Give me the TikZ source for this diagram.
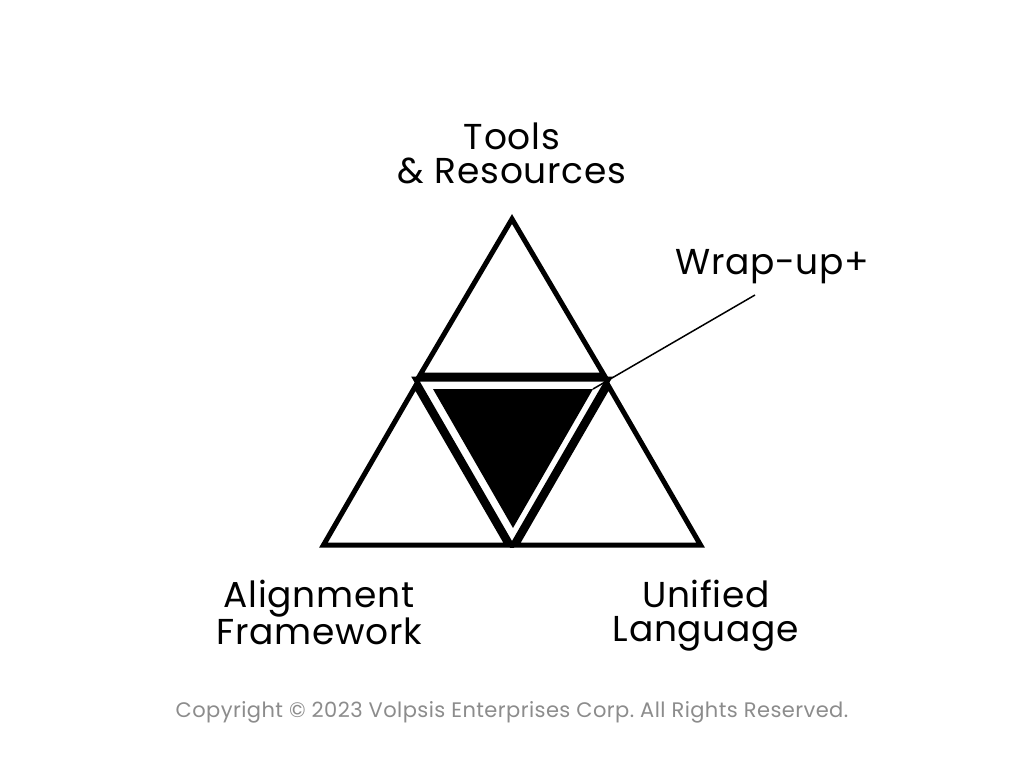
\documentclass[tikz,border=0pt]{standalone}
\usepackage{fontspec}
\setmainfont{Poppins}[LetterSpace=2]
\frenchspacing
\usetikzlibrary{positioning}

\definecolor{notegray}{RGB}{140,140,140}

\begin{document}
\begin{tikzpicture}[x=1pt, y=-1pt,
  tri/.style={draw=black, line width=5pt, line join=miter, fill=white},
  label/.style={align=center, inner sep=0pt, anchor=north,
    font=\fontsize{36}{34}\selectfont}]
  \useasboundingbox[fill=white] (0,0) rectangle (1024,768);

  % Outer triangles
  \draw[tri] (512,219) -- (420,375) -- (604,375) -- cycle;
  \draw[tri] (415.5,386) -- (323.5,545) -- (507.5,545) -- cycle;
  \draw[tri] (608.5,386) -- (516.5,545) -- (700.5,545) -- cycle;

  % Middle triangle
  \begin{scope}
    \clip (0,0) rectangle (1024,547.5);
    \draw[tri] (415.5,379) -- (608.5,379) -- (512,546) -- cycle;
  \end{scope}
  \fill[black] (433,389) -- (593,389) coordinate (corner)
    -- (513,528) -- cycle;

  % Labels
  \node[label] (tools) at (512,123) {Tools\\\& Resources};
  \node[label] (align) at (319,580) {Alignment\\Framework};
  \node[label] (unified) at (706,580) {Unified\\Language};
  \node[label, anchor=north west] (wrap) at (675,249) {Wrap-up+};

  % Leader
  \coordinate (lead) at (755,295);
  \draw[line width=1.5pt] (lead) -- (corner);

  \node[text=notegray, font=\fontsize{21}{21}\selectfont, anchor=base]
    (copy) at (512,717)
    {Copyright \textcopyright{} 2023 Volpsis Enterprises Corp. All Rights Reserved.};
\end{tikzpicture}
\end{document}
